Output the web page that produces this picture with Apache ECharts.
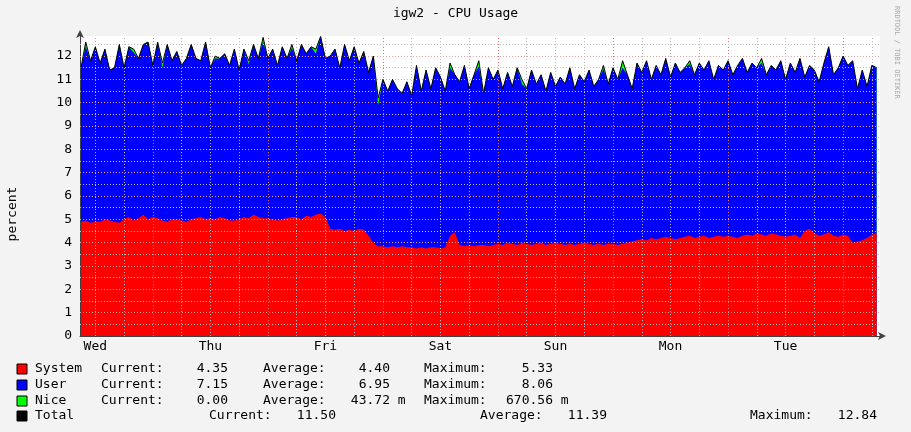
<!DOCTYPE html>
<html>
<head>
<meta charset="utf-8">
<script src="https://cdn.jsdelivr.net/npm/echarts@6/dist/echarts.min.js"></script>
<style>
  html, body { margin: 0; padding: 0; background: #f3f3f3; }
  #chart { width: 911px; height: 432px; }
</style>
</head>
<body>
<div id="chart"></div>
<script>
// hours relative to Thu 00:00, one sample per hour
const startHour = -15;
const system = [
  4.9,4.95,4.85,4.9,4.9,5.0,4.95,4.9,4.85,5.0,5.1,4.95,5.05,5.2,5.0,
  5.1,5.05,4.95,4.9,5.0,5.0,4.95,4.9,5.0,5.05,5.1,5.0,5.05,5.0,5.1,5.05,4.95,4.95,5.0,5.1,5.05,5.2,5.1,5.05,
  5.05,5.0,4.95,5.0,5.05,5.1,5.1,5.0,5.15,5.1,5.2,5.25,5.1,4.6,4.55,4.6,4.5,4.55,4.5,4.6,4.55,4.3,4.0,3.85,
  3.85,3.8,3.85,3.8,3.85,3.8,3.8,3.75,3.8,3.75,3.8,3.8,3.75,3.8,4.3,4.45,3.9,3.85,3.9,3.85,3.9,3.9,3.85,3.9,
  3.95,3.9,4.0,3.95,3.9,4.0,3.95,3.9,3.95,4.0,3.9,3.95,4.0,3.95,3.9,3.95,3.9,3.95,4.0,3.95,3.9,3.95,3.9,3.95,
  3.95,3.9,3.95,4.0,4.05,4.1,4.15,4.1,4.2,4.15,4.2,4.25,4.2,4.15,4.2,4.25,4.3,4.2,4.25,4.3,4.2,4.25,4.3,4.25,
  4.3,4.25,4.2,4.3,4.35,4.3,4.4,4.35,4.3,4.4,4.35,4.3,4.25,4.3,4.35,4.2,4.5,4.6,4.4,4.3,4.35,4.45,4.3,4.25,
  4.35,4.3,4.0,4.05,4.1,4.2,4.35,4.4
];
const total = [
  11.5,12.6,11.8,12.4,11.7,12.3,11.4,11.5,12.5,11.5,12.4,12.3,11.9,12.5,12.6,
  11.6,12.6,11.7,12.5,11.8,12.2,11.6,11.9,12.5,11.9,11.8,12.6,11.5,12.0,11.9,12.1,11.6,12.3,11.4,12.3,11.8,12.5,11.9,12.8,
  11.9,12.3,11.6,12.4,11.9,12.5,11.8,12.5,12.1,12.4,12.3,12.84,11.9,12.0,12.3,11.5,12.5,11.8,12.4,11.7,12.2,11.3,12.0,10.2,
  11.0,10.5,11.0,10.6,10.4,10.9,10.3,11.6,10.5,11.4,10.6,11.5,11.1,10.5,11.7,11.2,10.9,11.6,10.6,11.2,11.8,10.4,11.5,11.0,
  11.4,10.6,11.3,10.7,11.5,11.0,10.6,11.4,10.8,11.2,10.5,11.3,10.7,11.1,10.8,11.5,10.6,11.2,10.9,11.4,10.7,11.0,11.6,10.8,
  11.5,11.0,11.8,11.2,10.6,11.7,11.3,11.8,11.0,11.6,11.2,11.9,11.1,11.7,11.3,11.5,11.8,11.2,11.7,11.4,11.8,11.0,11.6,11.4,
  11.8,11.2,11.6,11.9,11.3,11.7,11.5,11.9,11.2,11.6,11.4,11.8,11.0,11.7,11.3,11.9,11.1,11.6,11.4,10.9,11.7,12.4,11.2,11.5,
  12.0,11.6,11.8,10.6,11.4,10.7,11.6,11.5
];
const nice = [
  0,0.2,0,0,0,0,0,0,0,0,0,0.15,0,0,0,
  0,0,0.2,0,0,0,0,0,0,0,0,0,0,0.1,0,0,0,0,0,0,0.15,0,0,0.2,
  0,0,0,0,0,0.15,0,0,0,0,0.2,0,0,0,0,0,0,0,0,0,0,0,0,0.3,
  0,0,0,0,0,0,0,0,0,0,0,0,0,0,0.2,0,0,0,0,0,0.25,0,0,0,
  0,0,0,0,0,0.2,0,0,0,0,0,0,0,0,0,0,0,0,0,0,0,0,0.15,0,
  0,0,0.3,0,0,0,0,0,0,0,0,0,0,0,0,0,0.15,0,0,0,0,0,0,0,
  0,0,0,0,0,0,0,0.2,0,0,0,0,0,0,0,0,0,0,0,0,0,0,0,0,
  0,0,0,0,0,0,0,0
];
const dayNames = ['Wed', 'Thu', 'Fri', 'Sat', 'Sun', 'Mon', 'Tue'];
const yTicks = [0,1,2,3,4,5,6,7,8,9,10,11,12];

const legendRows = [
  { name: 'System', color: '#ff0000', cur: '4.35', avg: '4.40', max: '5.33' },
  { name: 'User',   color: '#0000ff', cur: '7.15', avg: '6.95', max: '8.06' },
  { name: 'Nice',   color: '#00ff00', cur: '0.00', avg: '43.72', max: '670.56', unit: ' m' }
];
const totalStats = { cur: '11.50', avg: '11.39', max: '12.84' };

const hours = system.map((_, i) => startHour + i);
// top of the user band = total minus nice (bands are layered, not stacked by ECharts)
const userTop = total.map((t, i) => +(t - nice[i]).toFixed(3));
const pair = arr => arr.map((v, i) => [hours[i], v]);

const mono = 'DejaVu Sans Mono';
const txt = { fontFamily: mono, fontSize: 13, fill: '#000' };

// grid lines (drawn on top like rrdtool)
const gridLines = [];
for (let h = -12; h <= 150; h += 6) {
  gridLines.push({ xAxis: h, lineStyle: { color: h % 24 === 0 ? '#e07070' : '#b8b8b8' } });
}
for (let v = 0.5; v <= 12.5; v += 0.5) {
  gridLines.push({ yAxis: v, lineStyle: { color: v % 1 === 0 ? '#e0a0a0' : '#c0c0c0' } });
}

const graphic = [
  { type: 'text', left: 'center', top: 7, style: { ...txt, text: 'igw2 - CPU Usage' } },
  { type: 'text', x: 6, y: 214, rotation: Math.PI / 2, style: { ...txt, text: 'percent', textAlign: 'center' } },
  { type: 'text', x: 900, y: 6, rotation: -Math.PI / 2,
    style: { fontFamily: mono, fontSize: 7, fill: '#aaa', text: 'RRDTOOL / TOBI OETIKER' } }
];
const rowY = [369, 385, 401, 416];
legendRows.forEach((r, i) => {
  const y = rowY[i];
  graphic.push(
    { type: 'rect', shape: { x: 17, y: y - 5, width: 10, height: 10 }, style: { fill: r.color, stroke: '#000', lineWidth: 1 } },
    { type: 'text', x: 35, y: y, style: { ...txt, text: r.name, textVerticalAlign: 'middle' } },
    { type: 'text', x: 101, y: y, style: { ...txt, text: 'Current:', textVerticalAlign: 'middle' } },
    { type: 'text', x: 228, y: y, style: { ...txt, text: r.cur, textAlign: 'right', textVerticalAlign: 'middle' } },
    { type: 'text', x: 263, y: y, style: { ...txt, text: 'Average:', textVerticalAlign: 'middle' } },
    { type: 'text', x: 390, y: y, style: { ...txt, text: r.avg, textAlign: 'right', textVerticalAlign: 'middle' } },
    { type: 'text', x: 424, y: y, style: { ...txt, text: 'Maximum:', textVerticalAlign: 'middle' } },
    { type: 'text', x: 553, y: y, style: { ...txt, text: r.max, textAlign: 'right', textVerticalAlign: 'middle' } }
  );
  if (r.unit) {
    graphic.push(
      { type: 'text', x: 390, y: y, style: { ...txt, text: r.unit, textVerticalAlign: 'middle' } },
      { type: 'text', x: 553, y: y, style: { ...txt, text: r.unit, textVerticalAlign: 'middle' } }
    );
  }
});
const ty = rowY[3];
graphic.push(
  { type: 'rect', shape: { x: 17, y: ty - 5, width: 10, height: 10 }, style: { fill: '#000', stroke: '#000' } },
  { type: 'text', x: 35, y: ty, style: { ...txt, text: 'Total', textVerticalAlign: 'middle' } },
  { type: 'text', x: 209, y: ty, style: { ...txt, text: 'Current:', textVerticalAlign: 'middle' } },
  { type: 'text', x: 336, y: ty, style: { ...txt, text: totalStats.cur, textAlign: 'right', textVerticalAlign: 'middle' } },
  { type: 'text', x: 480, y: ty, style: { ...txt, text: 'Average:', textVerticalAlign: 'middle' } },
  { type: 'text', x: 607, y: ty, style: { ...txt, text: totalStats.avg, textAlign: 'right', textVerticalAlign: 'middle' } },
  { type: 'text', x: 750, y: ty, style: { ...txt, text: 'Maximum:', textVerticalAlign: 'middle' } },
  { type: 'text', x: 877, y: ty, style: { ...txt, text: totalStats.max, textAlign: 'right', textVerticalAlign: 'middle' } }
);

const areaSeries = (name, data, color, z) => ({
  name, type: 'line', data: pair(data),
  symbol: 'none', lineStyle: { width: 0 }, areaStyle: { color, opacity: 1 }, z
});

const chart = echarts.init(document.getElementById('chart'));
chart.setOption({
  backgroundColor: '#f3f3f3',
  animation: false,
  grid: { left: 80, right: 31, top: 36, bottom: 96, show: true, backgroundColor: '#ffffff', borderWidth: 0 },
  xAxis: {
    type: 'value', min: -15.2, max: 151.7,
    axisLine: { onZero: false, symbol: ['none', 'arrow'], symbolSize: [6, 8], symbolOffset: [0, 6],
      lineStyle: { color: '#404040' } },
    axisTick: { show: false },
    splitLine: { show: false },
    axisLabel: {
      customValues: dayNames.map((_, i) => -12 + 24 * i),
      formatter: v => dayNames[Math.round((v + 12) / 24)],
      fontFamily: mono, fontSize: 13, color: '#000', margin: 4
    }
  },
  yAxis: {
    type: 'value', min: 0, max: 12.86, interval: 1,
    axisLine: { show: true, onZero: false, symbol: ['none', 'arrow'], symbolSize: [6, 8], symbolOffset: [0, 6],
      lineStyle: { color: '#404040' } },
    axisTick: { show: false },
    splitLine: { show: false },
    axisLabel: {
      customValues: yTicks,
      fontFamily: mono, fontSize: 13, color: '#000', margin: 8
    }
  },
  graphic,
  series: [
    areaSeries('Nice', total, '#00ff00', 2),
    areaSeries('User', userTop, '#0000ff', 3),
    areaSeries('System', system, '#ff0000', 4),
    {
      name: 'Total', type: 'line', data: pair(total), symbol: 'none',
      lineStyle: { color: '#000', width: 1 }, z: 5,
      markLine: { silent: true, symbol: 'none', label: { show: false },
        lineStyle: { type: [1, 2], width: 1 }, data: gridLines }
    }
  ]
});
</script>
</body>
</html>
